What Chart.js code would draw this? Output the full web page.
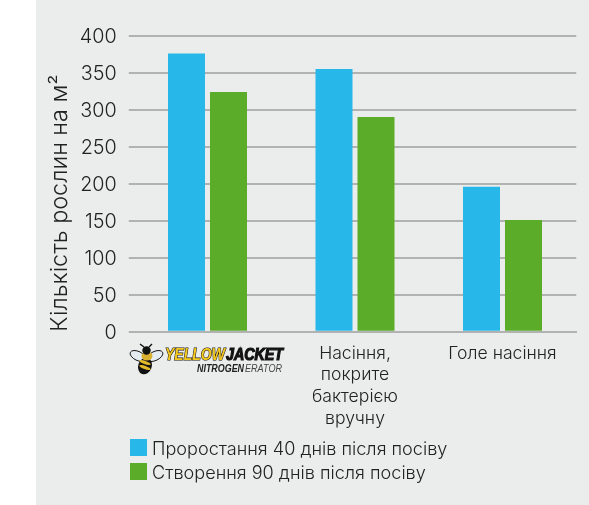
<!DOCTYPE html>
<html><head><meta charset="utf-8">
<script src="https://cdn.jsdelivr.net/npm/chart.js@4"></script>
<style>
html,body{margin:0;padding:0;background:#fff;width:589px;height:505px;overflow:hidden}
#panel{position:absolute;left:36px;top:0;width:553px;height:505px;background:#ebecec}
#wrap{position:absolute;left:0;top:0;width:589px;height:505px}
#legend{position:absolute;left:130px;top:435px;font:300 18.1px Inter,sans-serif;color:#222}
.row{display:flex;align-items:center;height:24px;white-space:nowrap}
.sw{width:17px;height:17px;margin-right:5px;flex:none}
.row span:last-child{position:relative;top:1px}
</style></head><body>
<div id="panel"></div>
<div id="wrap"><canvas id="c" width="589" height="505"></canvas></div>
<div id="legend"></div>
<script>
const categories = ['', ['Насіння,', 'покрите', 'бактерією', 'вручну'], 'Голе насіння'];
const germination = [376, 355, 196];
const establishment = [324, 290, 151];
const seriesNames = ['Проростання 40 днів після посіву', 'Створення 90 днів після посіву'];
const seriesColors = ['#27b7e8', '#5bac28'];
const yAxisTitle = 'Кількість рослин на м²';
const logoWords = ['YELLOW', 'JACKET', 'NITROGEN', 'ERATOR'];
const FONT = 'Inter,sans-serif';
const GRID = '#b1b2b2';

const logoPlugin = {
  id: 'logo',
  afterDraw(chart) {
    const g = chart.ctx, cx = chart.scales.x.getPixelForValue(0);
    const x0 = cx - 77.5, y0 = 344;
    g.save();
    g.translate(x0, y0);
    // wings
    g.fillStyle = '#e4ecf2'; g.strokeStyle = '#111'; g.lineWidth = 1;
    [[8, 12, 0.45], [25, 12, -0.45]].forEach(([x, y, r]) => {
      g.beginPath(); g.ellipse(x, y, 8.5, 4.5, r, 0, Math.PI * 2); g.fill(); g.stroke();
    });
    // abdomen and thorax
    g.fillStyle = '#111';
    g.beginPath(); g.ellipse(15, 22, 6.8, 8.5, 0.35, 0, Math.PI * 2); g.fill();
    g.fillStyle = '#e2b92b';
    [[18.5, 0.35], [23.5, 0.35]].forEach(([y, r]) => {
      g.beginPath(); g.ellipse(15, y, 6, 1.7, r, 0, Math.PI * 2); g.fill();
    });
    g.fillStyle = '#d9b030';
    g.beginPath(); g.ellipse(17, 12, 5.5, 4.5, 0, 0, Math.PI * 2); g.fill();
    g.fillStyle = '#111';
    g.beginPath(); g.arc(16.5, 6.5, 4.2, 0, Math.PI * 2); g.fill();
    g.lineWidth = 1.4;
    g.beginPath(); g.moveTo(14, 3); g.lineTo(10, 0); g.moveTo(19, 3); g.lineTo(22, 0); g.stroke();
    // words
    g.textBaseline = 'alphabetic'; g.textAlign = 'left';
    g.font = 'italic bold 16px "Liberation Sans",sans-serif';
    g.lineWidth = 1.2; g.strokeStyle = '#111'; g.fillStyle = '#f4c81d';
    g.strokeText(logoWords[0], 35, 16, 60); g.fillText(logoWords[0], 35, 16, 60);
    g.fillStyle = '#111'; g.strokeText(logoWords[1], 96, 16, 57); g.fillText(logoWords[1], 96, 16, 57);
    g.font = 'italic bold 10px "Liberation Sans",sans-serif';
    g.fillStyle = '#222';
    g.fillText(logoWords[2], 67, 28, 47);
    g.font = 'italic 10px "Liberation Sans",sans-serif';
    g.fillStyle = '#444';
    g.fillText(logoWords[3], 115, 28, 37);
    g.restore();
  }
};

new Chart(document.getElementById('c'), {
  type: 'bar',
  data: {
    labels: categories,
    datasets: [
      { label: seriesNames[0], data: germination, backgroundColor: seriesColors[0] },
      { label: seriesNames[1], data: establishment, backgroundColor: seriesColors[1] }
    ]
  },
  options: {
    responsive: false,
    animation: false,
    layout: { padding: { top: 35.7, right: 12.75, bottom: 0, left: 0 } },
    datasets: { bar: { barPercentage: 0.881, categoryPercentage: 0.5695 } },
    plugins: { legend: { display: false }, tooltip: { enabled: false } },
    scales: {
      x: {
        z: 1,
        grid: { display: false },
        border: { display: true, color: GRID, width: 2 },
        ticks: { color: '#222', font: { family: FONT, size: 17.6, weight: 300, lineHeight: 1.23 }, padding: 3, maxRotation: 0, autoSkip: false },
        afterFit(s) { s.height = 173.3; }
      },
      y: {
        min: 0, max: 400,
        border: { display: false },
        grid: { color: GRID, lineWidth: 2, tickLength: 5, tickColor: GRID, drawTicks: true },
        ticks: { stepSize: 50, color: '#222', font: { family: FONT, size: 19.8, weight: 300 }, padding: 12, labelOffset: 1 },
        title: { display: true, align: 'start', text: yAxisTitle, color: '#222', font: { family: FONT, size: 23.4, weight: 300 }, padding: { top: 46, bottom: 0 } },
        afterFit(s) { s.width = 133.75; }
      }
    }
  },
  plugins: [logoPlugin]
});

const lg = document.getElementById('legend');
seriesNames.forEach((n, i) => {
  const r = document.createElement('div'); r.className = 'row';
  const s = document.createElement('span'); s.className = 'sw'; s.style.background = seriesColors[i];
  const t = document.createElement('span'); t.textContent = n;
  r.append(s, t); lg.append(r);
});
</script>
</body></html>
